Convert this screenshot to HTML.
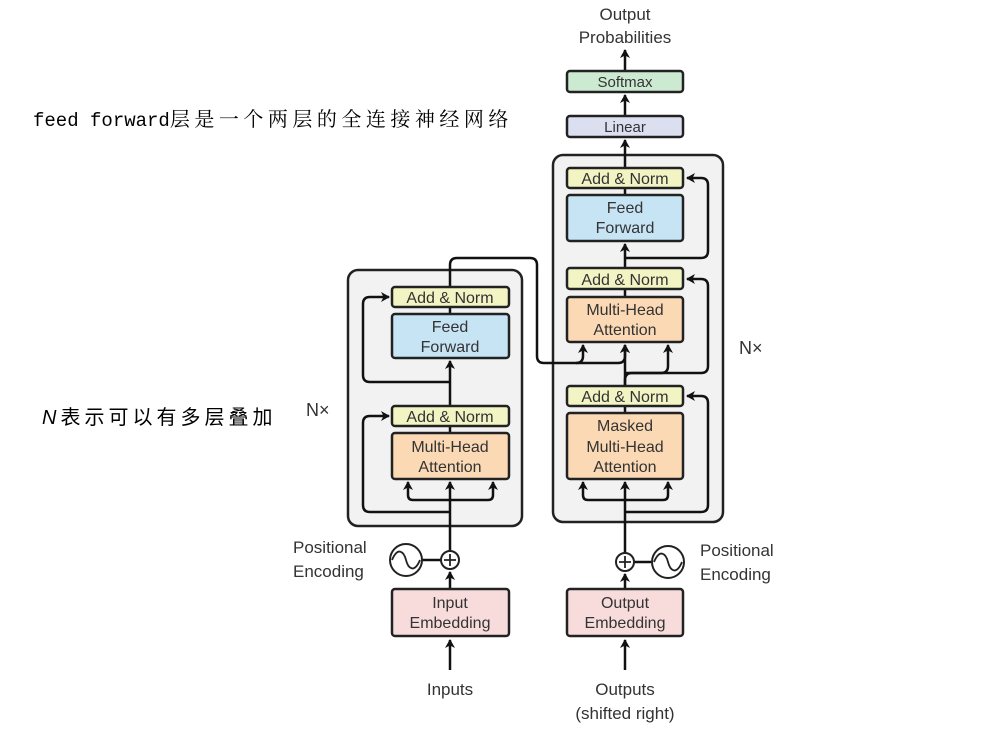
<!DOCTYPE html>
<html><head><meta charset="utf-8"><style>
body{margin:0;background:#fff;width:985px;height:739px;overflow:hidden}
svg{display:block}
text{font-family:"Liberation Sans",sans-serif;fill:#333}
.t{font-size:16px;text-anchor:middle}
.l{font-size:18px}
</style></head><body>
<svg width="985" height="739" viewBox="0 0 985 739" xmlns="http://www.w3.org/2000/svg">
<defs><marker id="a" markerWidth="10" markerHeight="10" refX="8" refY="5" orient="auto" markerUnits="userSpaceOnUse"><path d="M0,0 L9,5 L0,10 L2.5,5 z" fill="#111"/></marker></defs>
<text x="33" y="126" style="font-family:'Liberation Mono','Noto Serif CJK SC',monospace;font-size:19px;fill:#000">feed forward<tspan style="font-size:20px;letter-spacing:4.5px">层是一个两层的全连接神经网络</tspan></text>
<text x="42" y="424" style="font-family:'Liberation Sans','Noto Sans CJK SC',sans-serif;font-size:20px;fill:#000;letter-spacing:4px"><tspan font-style="italic">N</tspan>表示可以有多层叠加</text>

<rect x="348" y="270" width="174" height="256" rx="10" fill="#f2f2f2" stroke="#222" stroke-width="2.5"/>
<rect x="553" y="155" width="170" height="367" rx="10" fill="#f2f2f2" stroke="#222" stroke-width="2.5"/>
<text x="306" y="416" class="l">N×</text>
<text x="739" y="354" class="l">N×</text>

<g stroke="#111" stroke-width="2.5" fill="none">
<path d="M450 670 L450 640" marker-end="url(#a)"/>
<path d="M450 589 L450 572" marker-end="url(#a)"/>
<path d="M450 551 L450 482" marker-end="url(#a)"/>
<path d="M450 500 L413 500 Q408 500 408 495 L408 482" marker-end="url(#a)"/>
<path d="M450 500 L488 500 Q493 500 493 495 L493 482" marker-end="url(#a)"/>
<path d="M450 512 L370 512 Q363 512 363 505 L363 423 Q363 416 370 416 L389 416" marker-end="url(#a)"/>
<path d="M450 433 L450 426"/>
<path d="M450 406 L450 361" marker-end="url(#a)"/>
<path d="M450 382 L370 382 Q363 382 363 375 L363 304 Q363 297 370 297 L389 297" marker-end="url(#a)"/>
<path d="M450 314 L450 307"/>
<path d="M450 287 L450 265 Q450 258 457 258 L530 258 Q537 258 537 265 L537 356 Q537 363 544 363 L576 363 Q583 363 583 356 L583 345" marker-end="url(#a)"/>
<path d="M576 363 L618 363 Q625 363 625 356 L625 345" marker-end="url(#a)"/>
<line x1="422" y1="560" x2="441" y2="560"/>
<path d="M625 670 L625 640" marker-end="url(#a)"/>
<path d="M625 589 L625 574" marker-end="url(#a)"/>
<path d="M625 553 L625 482" marker-end="url(#a)"/>
<path d="M625 500 L588 500 Q583 500 583 495 L583 482" marker-end="url(#a)"/>
<path d="M625 500 L663 500 Q668 500 668 495 L668 482" marker-end="url(#a)"/>
<path d="M625 512 L701 512 Q708 512 708 505 L708 403 Q708 396 701 396 L687 396" marker-end="url(#a)"/>
<path d="M625 413 L625 406"/>
<path d="M625 386 L625 380 Q625 373 632 373 L661 373 Q668 373 668 366 L668 345" marker-end="url(#a)"/>
<path d="M625 385 L625 345" marker-end="url(#a)"/>
<path d="M625 373 L701 373 Q708 373 708 366 L708 286 Q708 279 701 279 L687 279" marker-end="url(#a)"/>
<path d="M625 297 L625 289"/>
<path d="M625 268 L625 244" marker-end="url(#a)"/>
<path d="M625 258 L701 258 Q708 258 708 251 L708 185 Q708 178 701 178 L687 178" marker-end="url(#a)"/>
<path d="M625 195 L625 188"/>
<path d="M625 168 L625 140" marker-end="url(#a)"/>
<path d="M625 116 L625 95" marker-end="url(#a)"/>
<path d="M625 71 L625 50" marker-end="url(#a)"/>
<line x1="634" y1="562" x2="652" y2="562"/>
</g>

<g stroke="#222" stroke-width="2.5">
<rect x="392" y="287" width="117" height="20" rx="3" fill="#f2f4c4"/>
<rect x="392" y="314" width="117" height="44" rx="3" fill="#c6e4f4"/>
<rect x="392" y="406" width="117" height="20" rx="3" fill="#f2f4c4"/>
<rect x="392" y="433" width="117" height="46" rx="3" fill="#fbd9b5"/>
<rect x="392" y="589" width="117" height="47" rx="3" fill="#f8dcdc"/>
<rect x="567" y="168" width="116" height="20" rx="3" fill="#f2f4c4"/>
<rect x="567" y="195" width="116" height="46" rx="3" fill="#c6e4f4"/>
<rect x="567" y="268" width="116" height="21" rx="3" fill="#f2f4c4"/>
<rect x="567" y="297" width="116" height="45" rx="3" fill="#fbd9b5"/>
<rect x="567" y="386" width="116" height="20" rx="3" fill="#f2f4c4"/>
<rect x="567" y="413" width="116" height="66" rx="3" fill="#fbd9b5"/>
<rect x="567" y="589" width="116" height="47" rx="3" fill="#f8dcdc"/>
<rect x="567" y="116" width="116" height="21" rx="3" fill="#dcdff0"/>
<rect x="567" y="71" width="116" height="21" rx="3" fill="#cce9d1"/>
</g>
<g stroke="#222" stroke-width="2" fill="#fff">
<circle cx="450" cy="560" r="9"/><circle cx="406" cy="560" r="16"/>
<circle cx="625" cy="562" r="9"/><circle cx="668" cy="562" r="16"/>
</g>
<g stroke="#222" stroke-width="1.8" fill="none">
<path d="M444 560 H456 M450 554 V566 M619 562 H631 M625 556 V568"/>
<path d="M392 560 C398 546 404 552 406 560 C408 568 414 574 420 560"/>
<path d="M654 562 C660 548 666 554 668 562 C670 570 676 576 682 562"/>
</g>

<text x="450" y="303" class="t">Add &amp; Norm</text>
<text x="450" y="332" class="t">Feed</text><text x="450" y="352" class="t">Forward</text>
<text x="450" y="422" class="t">Add &amp; Norm</text>
<text x="450" y="452" class="t">Multi-Head</text><text x="450" y="472" class="t">Attention</text>
<text x="450" y="608" class="t">Input</text><text x="450" y="628" class="t">Embedding</text>
<text x="625" y="184" class="t">Add &amp; Norm</text>
<text x="625" y="213" class="t">Feed</text><text x="625" y="233" class="t">Forward</text>
<text x="625" y="285" class="t">Add &amp; Norm</text>
<text x="625" y="315" class="t">Multi-Head</text><text x="625" y="335" class="t">Attention</text>
<text x="625" y="402" class="t">Add &amp; Norm</text>
<text x="625" y="431" class="t">Masked</text><text x="625" y="452" class="t">Multi-Head</text><text x="625" y="472" class="t">Attention</text>
<text x="625" y="608" class="t">Output</text><text x="625" y="628" class="t">Embedding</text>
<text x="625" y="132" class="t" style="font-size:15px">Linear</text>
<text x="625" y="87" class="t" style="font-size:15px">Softmax</text>
<text x="625" y="20" class="t" style="font-size:17px">Output</text>
<text x="625" y="43" class="t" style="font-size:17px">Probabilities</text>
<text x="450" y="695" class="t" style="font-size:17px">Inputs</text>
<text x="625" y="695" class="t" style="font-size:17px">Outputs</text>
<text x="625" y="719" class="t" style="font-size:17px">(shifted right)</text>
<text x="293" y="553" style="font-size:17px">Positional</text>
<text x="293" y="577" style="font-size:17px">Encoding</text>
<text x="700" y="556" style="font-size:17px">Positional</text>
<text x="700" y="580" style="font-size:17px">Encoding</text>
</svg>
</body></html>
